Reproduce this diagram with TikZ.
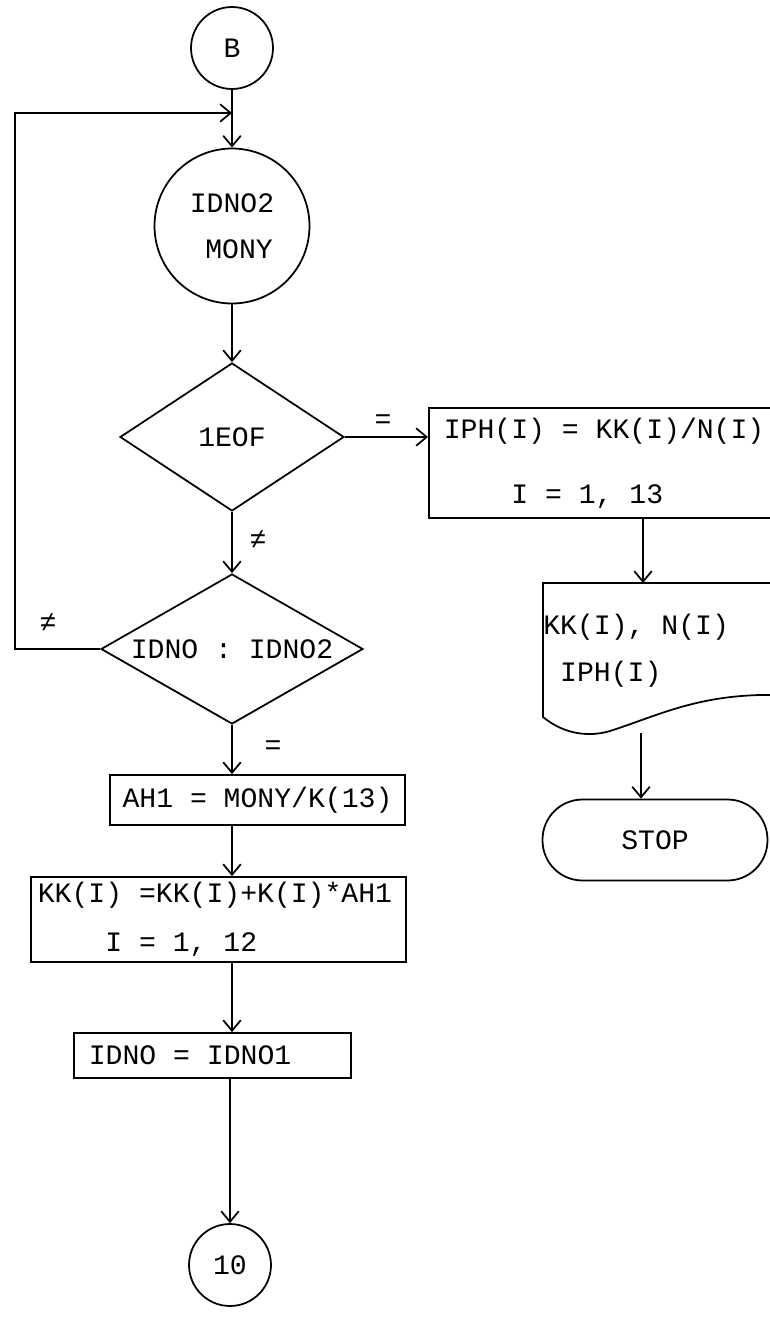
\documentclass[tikz,border=0pt]{standalone}
\usepackage{amsmath,amssymb}
\usepackage{fontspec}
\setmainfont{Liberation Mono}
\usetikzlibrary{arrows.meta,positioning,calc,shapes.geometric}
\tikzset{
  fc/.style={line width=1pt, draw=black},
  flow/.style={fc, -{Straight Barb[length=6pt,width=10pt]}},
  connector/.style={fc, circle, inner sep=0pt, align=center},
  decision/.style={fc, diamond, inner sep=0pt},
  procbox/.style={fc, rectangle, inner sep=0pt},
  leftbox/.style={procbox, anchor=west, align=flush left},
  lbl/.style={inner sep=1pt}
}

\begin{document}
\begin{tikzpicture}[x=0.02cm, y=-0.02cm, font=\fontsize{16}{28}\selectfont]
        \useasboundingbox (0,0) rectangle (770,1322);
        \node[connector, minimum size=1.64cm] (B) at (232,48) {B};
        \node[connector, minimum size=3.1cm, font=\fontsize{16}{26}\selectfont] (rd) at (232,226)
             {IDNO2\\\hspace*{0.5em}MONY};
        \node[decision, shape aspect=1.51, minimum width=4.48cm, minimum height=2.96cm] (eof) at (232,437) {1EOF};
        \node[decision, shape aspect=1.75, minimum width=5.24cm, minimum height=3cm] (cmp) at (232,649) {IDNO : IDNO2};
        \node[procbox, minimum width=5.9cm, minimum height=1cm] (ah) at (257.5,800) {AH1 = MONY/K(13)};
        \node[leftbox, minimum width=7.5cm, minimum height=1.7cm, inner xsep=0.14cm, text width=7.22cm,
              font=\fontsize{16}{27.8}\selectfont] (kk) at (30,919.5)
             {KK(I) =KK(I)+K(I)*AH1\\\hspace*{2.4em}I = 1, 12};
        \node[leftbox, minimum width=5.54cm, minimum height=0.9cm, inner xsep=0.3cm, text width=4.94cm] (idn) at (73,1055.5)
             {IDNO = IDNO1};
        \node[connector, minimum size=1.64cm] (ten) at (230,1265) {10};
        \node[leftbox, minimum width=7.44cm, minimum height=2.2cm, inner xsep=0.3cm, text width=6.84cm,
              font=\fontsize{16}{37}\selectfont] (iph) at (428,463)
             {IPH(I) = KK(I)/N(I)\\\hspace*{2.4em}I = 1, 13};
        \draw[fc] (543,583) -- (780,583) -- (780,695)
              .. controls (700,693) and (660,715) .. (610,731)
              .. controls (590,737) and (565,735) .. (543,717) -- cycle;
        \node[anchor=west, align=left, inner sep=0pt, font=\fontsize{16}{26.6}\selectfont] (docTxt) at (543,651)
             {KK(I), N(I)\\\hspace*{0.6em}IPH(I)};
        \coordinate (docTop) at (643,583);
        \coordinate (docBot) at (641,733);
        \node[procbox, rounded corners=0.8cm, minimum width=4.5cm, minimum height=1.62cm] (stop) at (655,840) {STOP};
        \coordinate (loopL) at (15,113);
        \draw[flow] (B.south) -- (rd.north);
        \draw[flow] (rd.south) -- (eof.north);
        \draw[flow] (eof.east) -- (eof.east -| iph.west);
        \draw[flow] (eof.south) -- (cmp.north);
        \draw[flow] (cmp.south) -- (cmp.south |- ah.north);
        \draw[flow] (cmp.south |- ah.south) -- (cmp.south |- kk.north);
        \draw[flow] (cmp.south |- kk.south) -- (cmp.south |- idn.north);
        \draw[flow] (ten.north |- idn.south) -- (ten.north);
        \draw[flow] (cmp.west) -- (cmp.west -| loopL) -- (loopL) -- (B.south |- loopL);
        \draw[flow] (iph.south -| docTop) -- (docTop);
        \draw[flow] (docBot) -- (docBot |- stop.north);
        \node[lbl] (eqR) at (383,422) {=};
        \node[lbl] (neD) at (258,540) {≠};
        \node[lbl] (neL) at (48,623) {≠};
        \node[lbl] (eqD) at (273,748) {=};
      \end{tikzpicture}
\end{document}
